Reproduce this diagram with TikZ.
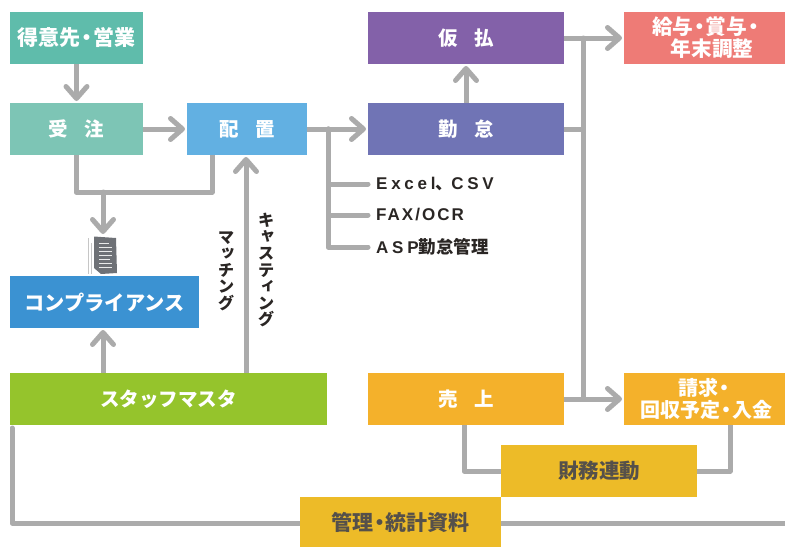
\documentclass[tikz,border=0pt]{standalone}
\usepackage{fontspec}
\setmainfont{Noto Sans CJK JP}
\newfontfamily\vertjp[RawFeature=+vert]{Noto Sans CJK JP}
\newfontfamily\latwide[LetterSpace=22]{Liberation Sans}
\newfontfamily\latnarrow[LetterSpace=12]{Liberation Sans}
\newcommand{\nak}{\hspace{-0.2em}・\hspace{-0.2em}}
\newcommand{\gapj}{\hspace{0.85em}}
\usetikzlibrary{arrows.meta,calc,backgrounds}
\definecolor{linegray}{HTML}{ABABAB}
\definecolor{inkdark}{HTML}{2A2624}
\definecolor{inkyellow}{HTML}{55504A}
\definecolor{cclient}{HTML}{5FBCAB}
\definecolor{corder}{HTML}{7DC5B5}
\definecolor{cplace}{HTML}{62B0E2}
\definecolor{cadvance}{HTML}{8361A9}
\definecolor{cattend}{HTML}{7074B5}
\definecolor{cpay}{HTML}{EE7B76}
\definecolor{ccomp}{HTML}{3B92D2}
\definecolor{cstaff}{HTML}{95C42C}
\definecolor{csales}{HTML}{F4B12B}
\definecolor{cyellow}{HTML}{EDBB28}
\definecolor{cdoc}{HTML}{6E7176}
\tikzset{
  x=1pt,y=-1pt,
  box/.style={fill=#1,text=white,font=\fontsize{19.5}{22}\selectfont\bfseries,inner sep=0pt,outer sep=0pt,align=center,anchor=north west},
  ybox/.style={box=cyellow,text=inkyellow,font=\fontsize{20.5}{22}\selectfont\bfseries},
  flow/.style={draw=linegray,line width=5pt,line join=round,line cap=round},
  arrowline/.style={flow,-{Straight Barb[length=12pt,width=21pt,line cap=round,line join=round]},shorten >=2pt},
  note/.style={text=inkdark,font=\fontsize{17.5}{18}\selectfont\bfseries,anchor=west,inner sep=0pt},
  vnote/.style={text=inkdark,font=\vertjp\fontsize{16.5}{16.6}\selectfont\bfseries,align=center,inner sep=0pt}
}
\begin{document}
\begin{tikzpicture}
\useasboundingbox (0,0) rectangle (785,547);
% boxes
\node[box=cclient,minimum width=133pt,minimum height=52pt,font=\fontsize{21}{22}\selectfont\bfseries] (client) at (10,12) {得意先\nak 営業};
\node[box=corder,minimum width=133pt,minimum height=52pt] (order) at (10,103) {受\gapj 注};
\node[box=cplace,minimum width=120pt,minimum height=52pt] (place) at (187,103) {配\gapj 置};
\node[box=cadvance,minimum width=196pt,minimum height=52pt] (advance) at (368,12) {仮\gapj 払};
\node[box=cattend,minimum width=196pt,minimum height=52pt] (attend) at (368,103) {勤\gapj 怠};
\node[box=cpay,minimum width=161pt,minimum height=52pt,font=\fontsize{20.7}{23}\selectfont\bfseries] (pay) at (624,12) {\hspace*{7pt}給与\nak 賞与\nak\\[-1pt]\hspace*{15pt}年末調整};
\node[box=ccomp,minimum width=189pt,minimum height=52pt,font=\fontsize{20.2}{22}\selectfont\bfseries] (comp) at (10,276) {コンプライアンス};
\node[box=cstaff,minimum width=317pt,minimum height=52pt,font=\fontsize{19.5}{22}\selectfont\bfseries] (staff) at (10,373) {スタッフマスタ};
\node[box=csales,minimum width=196pt,minimum height=52pt] (sales) at (368,373) {売\gapj 上};
\node[box=csales,minimum width=161pt,minimum height=52pt,font=\fontsize{20}{23}\selectfont\bfseries] (bill) at (624,373) {\hspace*{4pt}請求\nak\\[-1pt]\hspace*{4pt}回収予定\nak 入金};
\node[ybox,minimum width=196pt,minimum height=52pt] (fin) at (501,445) {財務連動};
\node[ybox,minimum width=201pt,minimum height=50pt,font=\fontsize{21}{22}\selectfont\bfseries] (mgmt) at (300,497) {管理\nak 統計資料};
% free ends and junctions
\coordinate (lefttop) at (12,428);
\coordinate (leftbot) at (12,523);
\coordinate (rightend) at (785,523);
\coordinate (busx) at (583,129);
\coordinate (branchx) at (328,129);
\coordinate (mergeL) at (76,192);
\coordinate (mergeR) at (212,192);
\coordinate (mergeD) at (103,192);
\coordinate (docin) at (103,234);
\coordinate (xl) at (368,184);
\coordinate (fax) at (368,215);
\coordinate (asp) at (368,247);
\coordinate (finL) at (464,471);
\coordinate (finR) at (730,471);
% connectors
\begin{scope}[on background layer]
\draw[arrowline] (client) -- (order);
\draw[arrowline] (order) -- (place);
\draw[arrowline] (place) -- (attend);
\draw[arrowline] (attend) -- (advance);
\draw[flow] (order.south -| mergeL) -- (mergeL) -- (mergeR) -- (place.south -| mergeR);
\draw[arrowline,shorten >=0pt] (mergeD) -- (docin);
\draw[arrowline] (staff.north -| mergeD) -- (comp.south -| mergeD);
\draw[arrowline] (staff.north -| 246,0) -- (place.south -| 246,0);
\draw[flow] (branchx) |- (xl);
\draw[flow] (branchx) |- (fax);
\draw[flow] (branchx) |- (asp);
\draw[flow] (attend.east) -- (busx);
\draw[flow] (busx |- advance.east) -- (busx |- sales.east);
\draw[arrowline] (advance.east) -- (pay.west |- advance.east);
\draw[arrowline] (sales.east) -- (bill.west |- sales.east);
\draw[flow] (sales.south -| finL) -- (finL) -- (fin.west |- finL);
\draw[flow] (bill.south -| finR) -- (finR) -- (fin.east |- finR);
\draw[flow] (lefttop) -- (leftbot) -- (mgmt.west |- leftbot);
\draw[flow,line cap=butt] (mgmt.east |- rightend) -- (rightend);
\end{scope}
% document icon
\draw[gray!45,line width=0.8pt] (88,238) -- (88,274) (91,243) -- (91,274);
\fill[cdoc] (94,236.5) -- (116,238) -- (117,273) -- (101,274) -- (94,268) -- cycle;
\foreach \yy/\xe in {243/109,247/112,251/112,255/112,259/110,263/112,267/112}
  \draw[white!85!cdoc,line width=0.7pt] (99,\yy) -- (\xe,\yy);
% labels
\node[note] (lxl) at (376,184) {{\latwide\fontsize{17}{18}\selectfont Excel}、\hspace{-0.1em}{\latwide\fontsize{17}{18}\selectfont CSV}};
\node[note] (lfax) at (376,215) {{\latnarrow\fontsize{17}{18}\selectfont FAX/OCR}};
\node[note] (lasp) at (376,247) {{\latwide\fontsize{17}{18}\selectfont ASP}勤怠管理};
\node[vnote] (lmatch) at (226,271) {マ\\ッ\\チ\\ン\\グ};
\node[vnote] (lcast) at (266,270) {キ\\ャ\\ス\\テ\\ィ\\ン\\グ};
\end{tikzpicture}
\end{document}
